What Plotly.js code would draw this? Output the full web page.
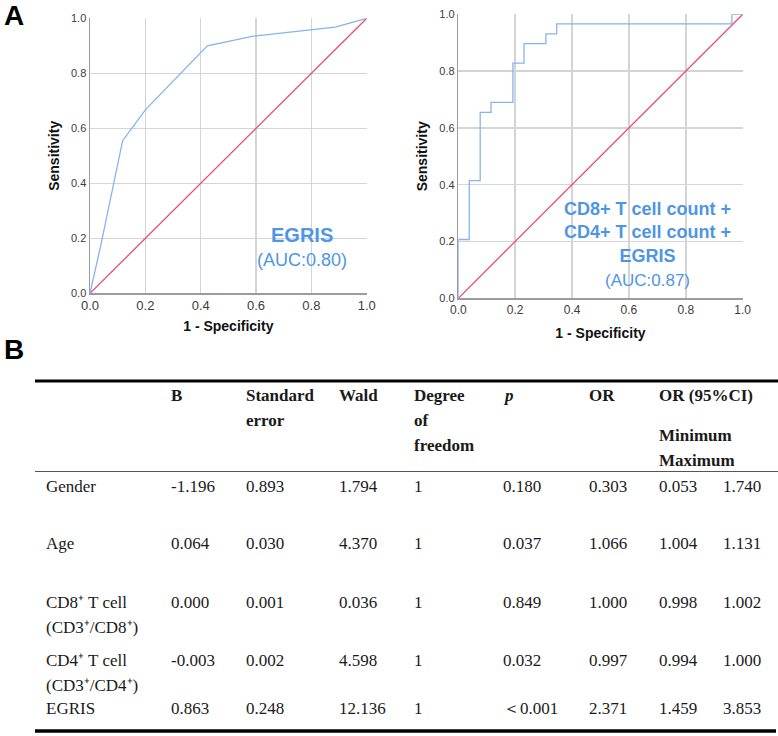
<!DOCTYPE html>
<html>
<head>
<meta charset="utf-8">
<script src="https://cdn.plot.ly/plotly-3.0.1.min.js"></script>
<style>
  html, body { margin: 0; padding: 0; background: #ffffff; }
  #chart { width: 778px; height: 736px; }
</style>
</head>
<body>
<div id="chart"></div>
<script>
// ---------- DATA ----------
// Panel A, left ROC: EGRIS
const fprEGRIS = [0, 0.038, 0.118, 0.2, 0.424, 0.59, 0.886, 1];
const tprEGRIS = [0, 0.17, 0.555, 0.667, 0.9, 0.935, 0.968, 1];
const labelEGRIS = ['EGRIS', '(AUC:0.80)'];

// Panel A, right ROC: combined model (step curve, corner points)
const fprCombined = [0, 0, 0.0385, 0.077, 0.115, 0.192, 0.231, 0.308, 0.346, 0.962, 1];
const tprCombined = [0, 0.207, 0.414, 0.655, 0.69, 0.828, 0.897, 0.931, 0.966, 1, 1];
const labelCombined = ['CD8+ T cell count +', 'CD4+ T cell count +', 'EGRIS'];
const aucCombined = '(AUC:0.87)';

// Reference line
const refX = [0, 1];
const refY = [0, 1];

// Axis ticks
const tickVals = [0, 0.2, 0.4, 0.6, 0.8, 1.0];
const tickText = ['0.0', '0.2', '0.4', '0.6', '0.8', '1.0'];

// Panel B, table
const colHeaders = [['B'], ['Standard', 'error'], ['Wald'], ['Degree', 'of', 'freedom'], ['p'], ['OR'], ['OR (95%CI)']];
const ciSubHeaders = ['Minimum', 'Maximum'];
const rowLabels = [
  ['Gender'],
  ['Age'],
  ['CD8⁺ T cell', '(CD3⁺/CD8⁺)'],
  ['CD4⁺ T cell', '(CD3⁺/CD4⁺)'],
  ['EGRIS']
];
const colB    = ['-1.196', '0.064', '0.000', '-0.003', '0.863'];
const colSE   = ['0.893', '0.030', '0.001', '0.002', '0.248'];
const colWald = ['1.794', '4.370', '0.036', '4.598', '12.136'];
const colDF   = ['1', '1', '1', '1', '1'];
const colP    = ['0.180', '0.037', '0.849', '0.032', '＜0.001'];
const colOR   = ['0.303', '1.066', '1.000', '0.997', '2.371'];
const colCIlo = ['0.053', '1.004', '0.998', '0.994', '1.459'];
const colCIhi = ['1.740', '1.131', '1.002', '1.000', '3.853'];

// ---------- LAYOUT HELPERS ----------
const W = 778, H = 736;
const px = v => v / W;
const py = v => 1 - v / H;

const sans = 'Liberation Sans, Arial, sans-serif';
const serif = 'Liberation Serif, Times New Roman, serif';
const curveBlue = '#85b4ee';
const textBlue = '#4f95e6';
const refRed = '#e84a70';

const traces = [
  { x: refX, y: refY, xaxis: 'x', yaxis: 'y', mode: 'lines', line: { color: refRed, width: 1.3 }, hoverinfo: 'skip', showlegend: false },
  { x: fprEGRIS, y: tprEGRIS, xaxis: 'x', yaxis: 'y', mode: 'lines', line: { color: curveBlue, width: 1.3 }, showlegend: false },
  { x: refX, y: refY, xaxis: 'x2', yaxis: 'y2', mode: 'lines', line: { color: refRed, width: 1.3 }, hoverinfo: 'skip', showlegend: false },
  { x: fprCombined, y: tprCombined, xaxis: 'x2', yaxis: 'y2', mode: 'lines', line: { color: curveBlue, width: 1.3, shape: 'hv' }, showlegend: false }
];

function axisX(domain, anchor, size, standoff) {
  return {
    domain: domain, anchor: anchor, range: [0, 1], fixedrange: true,
    tickmode: 'array', tickvals: tickVals, ticktext: tickText,
    tickfont: { family: sans, size: size, color: '#3c3c3c' },
    showgrid: true, gridcolor: '#d4d4d4', gridwidth: 1.5,
    showline: true, linecolor: '#9c9c9c', linewidth: 1.5, zeroline: false,
    ticks: '',
    title: { text: '1 - Specificity', font: { family: sans, size: 14, color: '#111', weight: 'bold' }, standoff: standoff }
  };
}
function axisY(domain, anchor, standoff) {
  return {
    domain: domain, anchor: anchor, range: [0, 1], fixedrange: true,
    tickmode: 'array', tickvals: tickVals, ticktext: tickText,
    tickfont: { family: sans, size: 11, color: '#3c3c3c' },
    showgrid: true, gridcolor: '#d4d4d4', gridwidth: 1.5,
    showline: true, linecolor: '#9c9c9c', linewidth: 1.5, zeroline: false,
    ticks: '',
    title: { text: 'Sensitivity', font: { family: sans, size: 14, color: '#111', weight: 'bold' }, standoff: standoff }
  };
}

const annotations = [];
const shapes = [];

// Panel letters
annotations.push({ xref: 'paper', yref: 'paper', x: px(2), y: py(16), xanchor: 'left', yanchor: 'middle', text: 'A', showarrow: false, font: { family: sans, size: 28, color: '#000', weight: 'bold' } });
annotations.push({ xref: 'paper', yref: 'paper', x: px(2), y: py(349), xanchor: 'left', yanchor: 'middle', text: 'B', showarrow: false, font: { family: sans, size: 28, color: '#000', weight: 'bold' } });

// ROC labels
const egrisY = [235, 260];
labelEGRIS.forEach((t, i) => annotations.push({ xref: 'paper', yref: 'paper', x: px(302), y: py(egrisY[i]), xanchor: 'center', yanchor: 'middle', text: t, showarrow: false,
  font: { family: sans, size: i === 0 ? 20 : 18, color: textBlue, weight: i === 0 ? 'bold' : 'normal' } }));
annotations.push({ xref: 'paper', yref: 'paper', x: px(647), y: py(232), xanchor: 'center', yanchor: 'middle', align: 'center',
  text: labelCombined.join('<br>'), showarrow: false, borderpad: 0,
  font: { family: sans, size: 18, color: textBlue, weight: 'bold' } });
annotations.push({ xref: 'paper', yref: 'paper', x: px(647), y: py(280), xanchor: 'center', yanchor: 'middle',
  text: aucCombined, showarrow: false, borderpad: 0,
  font: { family: sans, size: 17, color: textBlue } });

// Table
const tFont = { family: serif, size: 17, color: '#1a1a1a' };
const tBold = { family: serif, size: 17, color: '#1a1a1a', weight: 'bold' };
const colX = [170, 245, 338, 413, 502, 588, 658];
const ciMaxX = 722;
const labelX = 45;
const headerY = 395, lineGap = 25;
const ciSubY = [435, 460];
const rowY = [486, 543, 602, 660, 708];

function cell(x, y, text, font) {
  annotations.push({ xref: 'paper', yref: 'paper', x: px(x), y: py(y), xanchor: 'left', yanchor: 'middle', text: text, showarrow: false, font: font, borderpad: 0 });
}

colHeaders.forEach((lines, c) => {
  lines.forEach((t, k) => {
    const f = (t === 'p') ? Object.assign({}, tBold, { style: 'italic' }) : tBold;
    cell(colX[c], headerY + k * lineGap, t, f);
  });
});
ciSubHeaders.forEach((t, k) => cell(colX[6], ciSubY[k], t, tBold));

const dataCols = [colB, colSE, colWald, colDF, colP, colOR, colCIlo];
rowLabels.forEach((lines, r) => {
  lines.forEach((t, k) => cell(labelX, rowY[r] + k * lineGap, t, tFont));
  dataCols.forEach((col, c) => cell(colX[c], rowY[r], col[r], tFont));
  cell(ciMaxX, rowY[r], colCIhi[r], tFont);
});

// Rules
shapes.push({ type: 'line', xref: 'paper', yref: 'paper', x0: px(35), x1: px(778), y0: py(381), y1: py(381), line: { color: '#000', width: 3 } });
shapes.push({ type: 'line', xref: 'paper', yref: 'paper', x0: px(35), x1: px(778), y0: py(471.5), y1: py(471.5), line: { color: '#555', width: 1.2 } });
shapes.push({ type: 'line', xref: 'paper', yref: 'paper', x0: px(35), x1: px(776), y0: py(731), y1: py(731), line: { color: '#000', width: 3.5 } });

const layout = {
  width: W, height: H,
  margin: { l: 0, r: 0, t: 0, b: 0 },
  paper_bgcolor: '#ffffff', plot_bgcolor: '#ffffff',
  showlegend: false,
  xaxis: axisX([px(90), px(366.7)], 'y', 13, 9),
  yaxis: axisY([py(293.3), py(18.3)], 'x', 8),
  xaxis2: axisX([px(458.3), px(742.7)], 'y2', 12, 12),
  yaxis2: axisY([py(298.3), py(14.3)], 'x2', 8),
  annotations: annotations,
  shapes: shapes
};

Plotly.newPlot('chart', traces, layout, { displayModeBar: false, staticPlot: true });
</script>
</body>
</html>
